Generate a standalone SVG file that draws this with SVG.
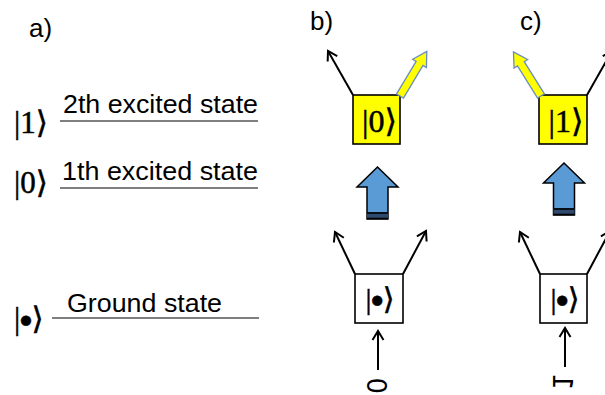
<svg xmlns="http://www.w3.org/2000/svg" width="605" height="395" viewBox="0 0 605 395">
  <defs>
    <marker id="open" markerUnits="userSpaceOnUse" markerWidth="14" markerHeight="14" viewBox="0 0 14 14" refX="11" refY="7" orient="auto">
      <path d="M2,1.5 L11,7 L2,12.5" fill="none" stroke="#000" stroke-width="2"/>
    </marker>
    <!-- fat yellow arrow, pointing along +x, base at origin -->
    <polygon id="yarrow" points="0,-4 38,-4 38,-8 52,0 38,8 38,4 0,4"/>
    <!-- blue block arrow pointing up, tip at origin -->
    <g id="barrow">
      <polygon points="0,0 20.5,20 10.5,20 10.5,52 -10.5,52 -10.5,20 -20.5,20" fill="#5B9BD5" stroke="#000" stroke-width="1.5"/>
      <rect x="-10.5" y="45" width="21" height="7" fill="#2E4A6E"/>
      <line x1="-10.5" y1="46" x2="10.5" y2="46" stroke="#000" stroke-width="1.6"/>
      <line x1="-10.5" y1="51.5" x2="10.5" y2="51.5" stroke="#000" stroke-width="1.6"/>
    </g>
  </defs>
  <style>
    .lbl { font-family: "Liberation Sans", Arial, sans-serif; font-size: 26px; fill: #000; }
    .state { font-family: "Liberation Sans", Arial, sans-serif; font-size: 26px; fill: #000; }
    .ket { font-family: "Liberation Serif", "DejaVu Serif", serif; fill: #000; stroke: #000; stroke-width: 0.5; }
    .dot { font-family: "DejaVu Sans", sans-serif; }
    .num { font-family: "DejaVu Sans", sans-serif; fill: #000; }
    .level { stroke: #555; stroke-width: 1.3; }
    .box { stroke: #000; stroke-width: 1.6; }
    .arr { stroke: #000; stroke-width: 2; fill: none; marker-end: url(#open); }
    .yel { fill: #FFFF00; stroke: #6A8DC0; stroke-width: 1.3; }
  </style>
  <rect width="605" height="395" fill="#fff"/>

  <!-- panel a: energy levels -->
  <g id="panel-a">
    <text class="lbl" x="29" y="37">a)</text>
    <g id="level-1">
      <text class="ket" x="14" y="133" font-size="31">|1⟩</text>
      <text class="state" x="63" y="113" textLength="195" lengthAdjust="spacingAndGlyphs">2th excited state</text>
      <line class="level" x1="60" y1="121" x2="258" y2="121"/>
    </g>
    <g id="level-0">
      <text class="ket" x="14" y="193" font-size="31">|0⟩</text>
      <text class="state" x="62" y="180" textLength="196" lengthAdjust="spacingAndGlyphs">1th excited state</text>
      <line class="level" x1="60" y1="188" x2="258" y2="188"/>
    </g>
    <g id="level-ground">
      <text class="ket" x="14" y="329" font-size="31">|<tspan class="dot" font-size="13" dy="-5">●</tspan><tspan dy="5">⟩</tspan></text>
      <text class="state" x="67" y="312" textLength="155" lengthAdjust="spacingAndGlyphs">Ground state</text>
      <line class="level" x1="52" y1="318" x2="259" y2="318"/>
    </g>
  </g>

  <!-- panel b -->
  <text class="lbl" x="310" y="30">b)</text>
  <g id="b-top">
    <rect class="box" x="353" y="95" width="47" height="49" fill="#FFFF00"/>
    <text class="ket" x="379.5" y="132" font-size="32" text-anchor="middle">|0⟩</text>
  </g>
  <g id="b-bottom">
    <rect class="box" x="355" y="274" width="48" height="49" fill="#fff"/>
    <text class="ket" x="380" y="309" font-size="30" text-anchor="middle">|<tspan class="dot" font-size="13" dy="-5">●</tspan><tspan dy="5">⟩</tspan></text>
  </g>
  <text id="b-input" class="num" font-size="26" transform="matrix(0,-1,-1,0,367,394)">0</text>

  <!-- panel c -->
  <text class="lbl" x="520" y="30">c)</text>
  <g id="c-top">
    <rect class="box" x="539" y="95" width="48" height="49" fill="#FFFF00"/>
    <text class="ket" x="566" y="132" font-size="32" text-anchor="middle">|1⟩</text>
  </g>
  <g id="c-bottom">
    <rect class="box" x="540" y="274" width="47" height="49" fill="#fff"/>
    <text class="ket" x="565" y="309" font-size="30" text-anchor="middle">|<tspan class="dot" font-size="13" dy="-5">●</tspan><tspan dy="5">⟩</tspan></text>
  </g>
  <text id="c-input" class="num" font-size="26" transform="matrix(0,-1,-1,0,553,390)">1</text>

  <g id="connectors">
    <!-- panel b -->
    <line class="arr" x1="353" y1="95" x2="328" y2="51"/>
    <use href="#yarrow" class="yel" transform="translate(400,96) rotate(-59)"/>
    <use href="#barrow" transform="translate(377.5,167)"/>
    <line class="arr" x1="355" y1="274" x2="335" y2="232"/>
    <line class="arr" x1="403" y1="274" x2="426" y2="231"/>
    <line class="arr" x1="378" y1="370" x2="378" y2="331"/>
    <!-- panel c -->
    <use href="#yarrow" class="yel" transform="translate(541,96) rotate(-122)"/>
    <line class="arr" x1="587" y1="95" x2="612" y2="51"/>
    <use href="#barrow" transform="translate(564,163)"/>
    <line class="arr" x1="540" y1="274" x2="520" y2="232"/>
    <line class="arr" x1="587" y1="274" x2="610" y2="231"/>
    <line class="arr" x1="565" y1="367" x2="565" y2="328"/>
  </g>
</svg>
